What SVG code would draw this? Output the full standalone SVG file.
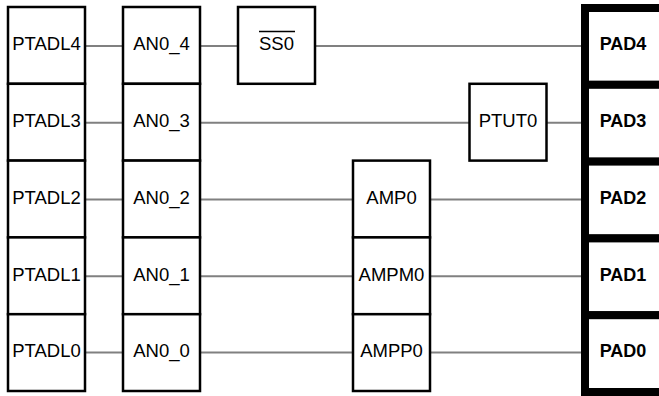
<svg xmlns="http://www.w3.org/2000/svg" width="659" height="396" viewBox="0 0 659 396">
<style>
.b{fill:#fff;stroke:#000;stroke-width:2.5}
.p{fill:#fff;stroke:#000;stroke-width:8}
.t{font-family:"Liberation Sans",Arial,sans-serif;font-size:18.5px;text-anchor:middle;fill:#000}
.tb{font-family:"Liberation Sans",Arial,sans-serif;font-size:18px;font-weight:bold;text-anchor:middle;fill:#000}
.c{stroke:#808080;stroke-width:2;fill:none}
</style>
<rect width="659" height="396" fill="#fff"/>
<g id="connectors">
<line class="c" x1="86" y1="46" x2="123" y2="46"/>
<line class="c" x1="86" y1="122.7" x2="123" y2="122.7"/>
<line class="c" x1="86" y1="199.5" x2="123" y2="199.5"/>
<line class="c" x1="86" y1="276.3" x2="123" y2="276.3"/>
<line class="c" x1="86" y1="352.6" x2="123" y2="352.6"/>
<line class="c" x1="200" y1="46" x2="238" y2="46"/>
<line class="c" x1="315" y1="46" x2="582" y2="46"/>
<line class="c" x1="200" y1="122.7" x2="469" y2="122.7"/>
<line class="c" x1="547" y1="122.7" x2="582" y2="122.7"/>
<line class="c" x1="200" y1="199.5" x2="353" y2="199.5"/>
<line class="c" x1="430" y1="199.5" x2="582" y2="199.5"/>
<line class="c" x1="200" y1="276.3" x2="353" y2="276.3"/>
<line class="c" x1="430" y1="276.3" x2="582" y2="276.3"/>
<line class="c" x1="200" y1="352.6" x2="353" y2="352.6"/>
<line class="c" x1="430" y1="352.6" x2="582" y2="352.6"/>
</g>
<g id="PTADL4"><rect class="b" x="8" y="7" width="77" height="76.8"/><text class="t" x="46.5" y="50.2">PTADL4</text></g>
<g id="PTADL3"><rect class="b" x="8" y="83.8" width="77" height="76.8"/><text class="t" x="46.5" y="126.9">PTADL3</text></g>
<g id="PTADL2"><rect class="b" x="8" y="160.6" width="77" height="76.8"/><text class="t" x="46.5" y="203.7">PTADL2</text></g>
<g id="PTADL1"><rect class="b" x="8" y="237.4" width="77" height="76.8"/><text class="t" x="46.5" y="280.5">PTADL1</text></g>
<g id="PTADL0"><rect class="b" x="8" y="314.2" width="77" height="76.8"/><text class="t" x="46.5" y="356.8">PTADL0</text></g>
<g id="AN0_4"><rect class="b" x="123" y="7" width="77" height="76.8"/><text class="t" x="161.5" y="50.2">AN0_4</text></g>
<g id="AN0_3"><rect class="b" x="123" y="83.8" width="77" height="76.8"/><text class="t" x="161.5" y="126.9">AN0_3</text></g>
<g id="AN0_2"><rect class="b" x="123" y="160.6" width="77" height="76.8"/><text class="t" x="161.5" y="203.7">AN0_2</text></g>
<g id="AN0_1"><rect class="b" x="123" y="237.4" width="77" height="76.8"/><text class="t" x="161.5" y="280.5">AN0_1</text></g>
<g id="AN0_0"><rect class="b" x="123" y="314.2" width="77" height="76.8"/><text class="t" x="161.5" y="356.8">AN0_0</text></g>
<g id="SS0"><rect class="b" x="238" y="7" width="77" height="76.8"/><text class="t" x="276.5" y="50.2">SS0</text><line x1="259" y1="31.5" x2="295" y2="31.5" stroke="#000" stroke-width="1.5"/></g>
<g id="PTUT0"><rect class="b" x="469.5" y="83.8" width="77" height="76.8"/><text class="t" x="508" y="126.9">PTUT0</text></g>
<g id="AMP0"><rect class="b" x="353" y="160.6" width="77" height="76.8"/><text class="t" x="391.5" y="203.7">AMP0</text></g>
<g id="AMPM0"><rect class="b" x="353" y="237.4" width="77" height="76.8"/><text class="t" x="391.5" y="280.5">AMPM0</text></g>
<g id="AMPP0"><rect class="b" x="353" y="314.2" width="77" height="76.8"/><text class="t" x="391.5" y="356.8">AMPP0</text></g>
<g id="PAD4"><rect class="p" x="585" y="8" width="120" height="76.8"/><text class="tb" x="623" y="50.2">PAD4</text></g>
<g id="PAD3"><rect class="p" x="585" y="84.8" width="120" height="76.8"/><text class="tb" x="623" y="126.9">PAD3</text></g>
<g id="PAD2"><rect class="p" x="585" y="161.6" width="120" height="76.8"/><text class="tb" x="623" y="203.7">PAD2</text></g>
<g id="PAD1"><rect class="p" x="585" y="238.4" width="120" height="76.8"/><text class="tb" x="623" y="280.5">PAD1</text></g>
<g id="PAD0"><rect class="p" x="585" y="315.2" width="120" height="76.8"/><text class="tb" x="623" y="356.8">PAD0</text></g>
</svg>
